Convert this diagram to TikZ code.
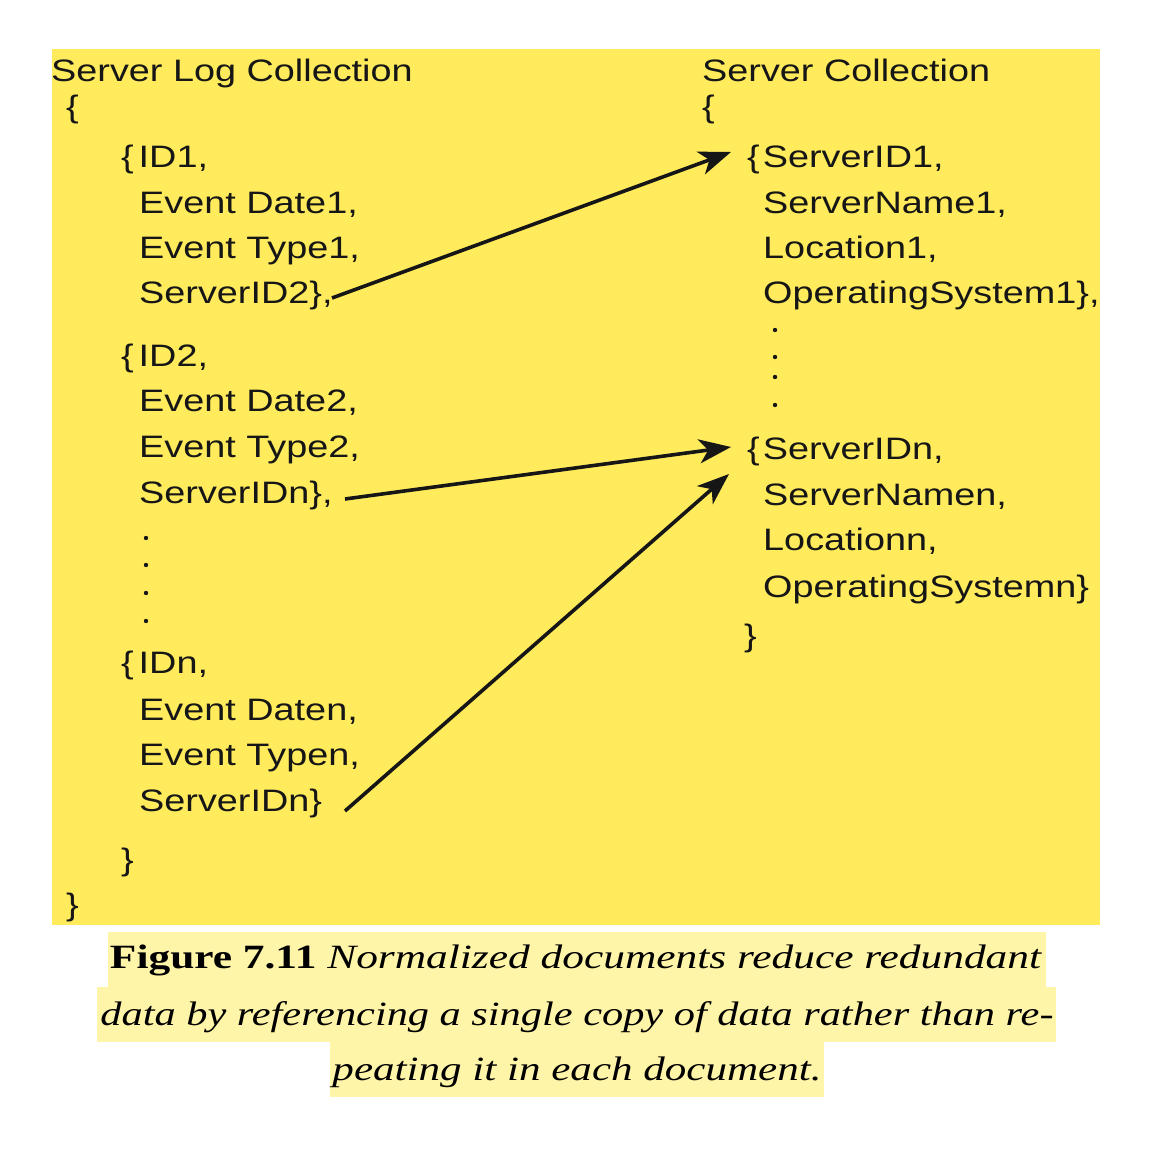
\documentclass[tikz,border=0pt]{standalone}
\usepackage{fontspec}
\setmainfont{Liberation Sans}
\newfontfamily\capfont{Liberation Serif}
\usetikzlibrary{arrows.meta}
\definecolor{bgyellow}{HTML}{FFEB5C}
\definecolor{hlyellow}{HTML}{FFF5A8}
\definecolor{ink}{HTML}{161616}
\newcommand\widetxt[1]{\scalebox{1.22}[1]{#1}}
\newcommand\capline[2]{\resizebox{#1}{\height}{#2}}
\tikzset{
  txt/.style={anchor=base west, inner sep=0pt, text=ink, font=\fontsize{31}{31}\selectfont},
  captxt/.style={anchor=base, inner sep=0pt, text=black, font=\capfont\fontsize{34}{34}\selectfont},
  ref/.style={draw=ink, line width=3.6pt, -{Stealth[length=32pt, width=24pt, inset=9pt]}},
  vdot/.style={fill=ink}
}
\begin{document}
\begin{tikzpicture}[x=1pt, y=-1pt]
\useasboundingbox (0,0) rectangle (1160,1150);
\fill[white] (0,0) rectangle (1160,1150);
\fill[bgyellow] (52,49) rectangle (1100,925);
% caption highlights
\fill[hlyellow] (108,932) rectangle (1046,987);
\fill[hlyellow] (97,987) rectangle (1056,1042);
\fill[hlyellow] (330,1042) rectangle (824,1097);

% left column
\node[txt] (lt) at (51,82) {\widetxt{Server Log Collection}};
\node[txt] (lo) at (66,118) {\widetxt{\{}};
\node[txt] (a1) at (121,168) {\widetxt{\{\kern4pt ID1,}};
\node[txt] (a2) at (139,214) {\widetxt{Event Date1,}};
\node[txt] (a3) at (139,259) {\widetxt{Event Type1,}};
\node[txt] (a4) at (139,304) {\widetxt{ServerID2\},}};
\node[txt] (b1) at (121,367) {\widetxt{\{\kern4pt ID2,}};
\node[txt] (b2) at (139,412) {\widetxt{Event Date2,}};
\node[txt] (b3) at (139,457) {\widetxt{Event Type2,}};
\node[txt] (b4) at (139,503) {\widetxt{ServerIDn\},}};
\fill[vdot] (146,538) circle (2.2);
\fill[vdot] (146,565) circle (2.2);
\fill[vdot] (146,593) circle (2.2);
\fill[vdot] (146,621) circle (2.2);
\node[txt] (c1) at (121,673) {\widetxt{\{\kern4pt IDn,}};
\node[txt] (c2) at (139,720) {\widetxt{Event Daten,}};
\node[txt] (c3) at (139,765) {\widetxt{Event Typen,}};
\node[txt] (c4) at (139,811) {\widetxt{ServerIDn\}}};
\node[txt] (lic) at (121,870) {\widetxt{\}}};
\node[txt] (lc) at (66,915) {\widetxt{\}}};

% right column
\node[txt] (rt) at (702,82) {\widetxt{Server Collection}};
\node[txt] (ro) at (702,118) {\widetxt{\{}};
\node[txt] (s1) at (747,168) {\widetxt{\{\kern2.5pt ServerID1,}};
\node[txt] (s2) at (763,214) {\widetxt{ServerName1,}};
\node[txt] (s3) at (763,259) {\widetxt{Location1,}};
\node[txt] (s4) at (763,304) {\widetxt{OperatingSystem1\},}};
\fill[vdot] (775,330) circle (2.2);
\fill[vdot] (775,357) circle (2.2);
\fill[vdot] (775,377) circle (2.2);
\fill[vdot] (775,405) circle (2.2);
\node[txt] (n1) at (747,459) {\widetxt{\{\kern2.5pt ServerIDn,}};
\node[txt] (n2) at (763,505) {\widetxt{ServerNamen,}};
\node[txt] (n3) at (763,550) {\widetxt{Locationn,}};
\node[txt] (n4) at (763,597) {\widetxt{OperatingSystemn\}}};
\node[txt] (rc) at (744,646) {\widetxt{\}}};

% arrow end points
\coordinate (fa) at (332,298);
\coordinate (ta) at (731,152);
\coordinate (fb) at (345,499);
\coordinate (tb) at (731,447);
\coordinate (fc) at (345,811);
\coordinate (tc) at (729,474);
\draw[ref] (fa) -- (ta);
\draw[ref] (fb) -- (tb);
\draw[ref] (fc) -- (tc);

% caption
\node[captxt] (cap1) at (576,968) {\capline{932pt}{\textbf{Figure 7.11} \textit{Normalized documents reduce redundant}}};
\node[captxt] (cap2) at (577,1025) {\capline{953pt}{\textit{data by referencing a single copy of data rather than re-}}};
\node[captxt] (cap3) at (577,1080) {\capline{489pt}{\textit{peating it in each document.}}};
\end{tikzpicture}
\end{document}
